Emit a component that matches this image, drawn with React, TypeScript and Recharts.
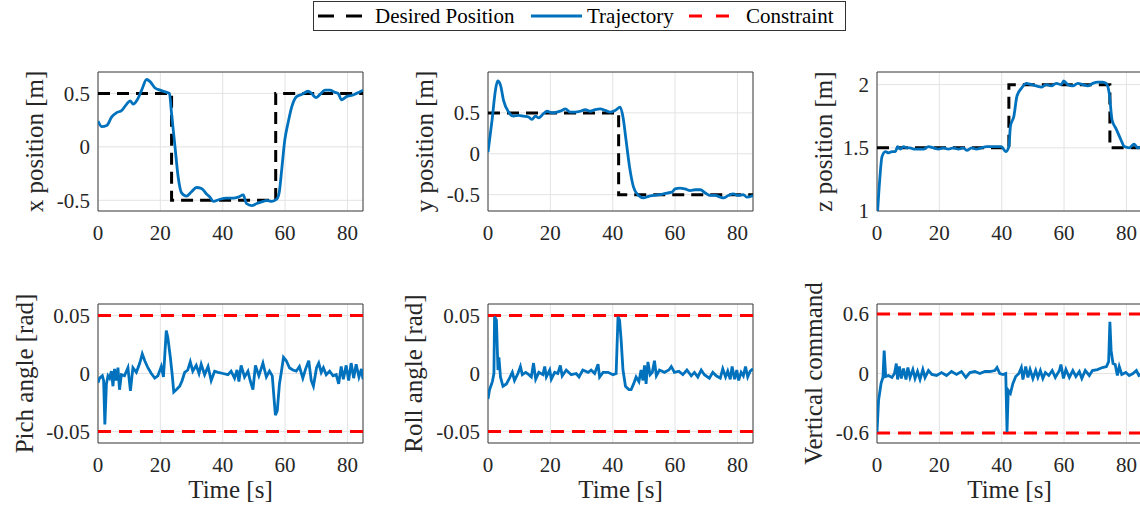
import React from 'react';
import {
  LineChart, Line, XAxis, YAxis, CartesianGrid, ReferenceLine, ReferenceArea,
} from 'recharts';

type Pt = [number, number];

const FONT = "'Liberation Serif', 'Times New Roman', serif";
const BLUE = '#0072BD';
const RED = '#FF0000';

const timeTicks = [0, 20, 40, 60, 80];
const timeDomain: [number, number] = [0, 85];

// ── x position ──
const xDesired: Pt[] = [[0, 0.5], [23.6, 0.5], [23.6, -0.5], [57, -0.5], [57, 0.5], [85, 0.5]];
const xTrajectory: Pt[] = [
  [0, 0.24], [1.2, 0.19], [2.8, 0.2], [4.4, 0.28], [6, 0.32], [7.6, 0.34], [9.2, 0.4], [10.3, 0.43],
  [11.3, 0.4], [12.6, 0.44], [14, 0.53], [15.6, 0.63], [16.7, 0.61], [18.3, 0.55], [19.9, 0.53],
  [22, 0.51], [22.9, 0.5], [23.6, 0.31], [24.7, 0], [25.7, -0.28], [26.8, -0.43], [28.4, -0.46],
  [30, -0.42], [31.6, -0.38], [33.2, -0.39], [34.8, -0.44], [35.9, -0.47], [37, -0.51], [39.1, -0.49],
  [41.2, -0.48], [43.4, -0.48], [45, -0.47], [46.6, -0.45], [47.6, -0.53], [49.3, -0.55], [50.9, -0.53],
  [53, -0.51], [54.1, -0.5], [55.7, -0.51], [57.3, -0.49], [58.1, -0.43], [58.9, -0.22], [59.9, 0.06],
  [61, 0.23], [62.1, 0.37], [63.7, 0.47], [65.3, 0.49], [67.4, 0.52], [68.5, 0.5], [69.9, 0.46],
  [71.2, 0.49], [72.8, 0.53], [74.4, 0.53], [76, 0.51], [77, 0.5], [78.1, 0.44], [79.7, 0.47],
  [81.3, 0.48], [82.9, 0.5], [85, 0.53],
];

// ── y position ──
const yDesired: Pt[] = [[0, 0.5], [41.9, 0.5], [41.9, -0.5], [85, -0.5]];
const yTrajectory: Pt[] = [
  [0, 0.02], [1.3, 0.41], [2.4, 0.78], [3.1, 0.89], [4, 0.84], [5, 0.65], [6.6, 0.51], [8.2, 0.46],
  [9.8, 0.47], [11.4, 0.46], [13, 0.45], [14.1, 0.42], [15.2, 0.46], [16.2, 0.44], [17.8, 0.49],
  [18.9, 0.52], [20.5, 0.5], [22.1, 0.51], [23.7, 0.53], [24.8, 0.55], [26.4, 0.51], [27.9, 0.51],
  [29.6, 0.52], [31.2, 0.54], [32.8, 0.52], [34.4, 0.54], [36, 0.55], [37.6, 0.53], [39.2, 0.51],
  [40.8, 0.53], [42.4, 0.57], [43.3, 0.45], [44.3, 0.16], [45.4, -0.16], [46.7, -0.41], [48.3, -0.51],
  [49.9, -0.54], [51.5, -0.52], [53.1, -0.51], [55.2, -0.5], [57.4, -0.48], [59, -0.47], [60, -0.43],
  [61.6, -0.42], [63.2, -0.43], [64.9, -0.45], [66.5, -0.44], [68.1, -0.44], [69.7, -0.48],
  [71.3, -0.51], [72.9, -0.51], [74.5, -0.53], [75.5, -0.54], [77.1, -0.51], [78.7, -0.49],
  [80.3, -0.51], [81.9, -0.5], [83, -0.53], [85, -0.51],
];

// ── z position ──
const zDesired: Pt[] = [[0, 1.5], [42.3, 1.5], [42.3, 2], [74.7, 2], [74.7, 1.5], [85, 1.5]];
const zTrajectory: Pt[] = [
  [0.2, 1.0], [0.85, 1.24], [1.6, 1.43], [2.7, 1.47], [3.7, 1.46], [4.8, 1.47], [5.9, 1.47], [6.6, 1.51],
  [7.5, 1.49], [8.5, 1.51], [9.6, 1.5], [10.6, 1.5], [11.9, 1.49], [13.3, 1.49], [14.9, 1.49],
  [16.5, 1.51], [18.1, 1.5], [19.7, 1.49], [21.3, 1.5], [22.9, 1.49], [24.5, 1.5], [26.1, 1.49],
  [27.7, 1.5], [28.8, 1.48], [30.4, 1.5], [31.9, 1.49], [33.5, 1.5], [35.1, 1.51], [36.7, 1.51],
  [38.3, 1.51], [39.9, 1.51], [41.3, 1.47], [42.3, 1.51], [42.8, 1.67], [43.9, 1.75], [44.9, 1.91],
  [46.3, 1.97], [47.9, 2.01], [49.5, 2.0], [51.1, 1.99], [52.7, 1.98], [54.3, 2.0], [55.9, 1.99],
  [57.5, 2.01], [59.1, 2.0], [59.9, 2.03], [61.2, 2.0], [62.8, 1.99], [64.4, 2.01], [66, 2.0],
  [67.6, 1.99], [69.2, 2.01], [70.8, 2.02], [72.4, 2.02], [73.5, 2.01], [74.5, 1.93], [75.4, 1.72],
  [76.7, 1.65], [78.3, 1.56], [79.3, 1.51], [80.9, 1.5], [82.5, 1.53], [83.6, 1.5], [85, 1.51],
];

// ── pitch angle ──
const pitchLimits = [-0.05, 0.05];
const pitchTrajectory: Pt[] = [
  [0, -0.008], [0.5, -0.004], [1.4, -0.002], [1.8, -0.006], [2.2, -0.044], [2.7, -0.009], [3.2, -0.002],
  [3.7, -0.004], [4.3, 0.002], [4.8, -0.011], [5.3, 0.004], [5.9, -0.006], [6.4, 0.005], [6.9, -0.014],
  [7.5, -0.001], [8.5, -0.002], [9.6, 0.005], [10.4, -0.015], [11.2, 0.005], [12.3, 0.001], [13.4, 0.009],
  [14.2, 0.017], [15, 0.011], [16, 0.005], [17.1, 0], [18.2, -0.004], [19.2, -0.002], [20.3, 0.006],
  [21, -0.003], [21.9, 0.037], [22.4, 0.031], [23.2, 0.014], [23.8, -0.001], [24.3, -0.016],
  [25.1, -0.014], [26.2, -0.011], [27, -0.006], [27.8, 0.001], [28.8, 0.003], [29.6, 0.01],
  [30.4, 0.002], [31.5, 0.007], [32.4, 0], [33.1, 0.008], [34.2, -0.001], [35.3, 0.006], [36.3, -0.006],
  [37.4, 0.002], [38.5, 0.001], [40.1, 0], [41.7, -0.001], [42.7, 0.002], [43.8, -0.004], [44.6, 0.003],
  [45.2, -0.007], [45.9, 0.007], [47, -0.003], [48.1, 0.002], [48.8, -0.006], [49.7, -0.014],
  [50.5, 0.007], [51.6, -0.002], [52.9, 0.009], [54, -0.003], [55, 0.002], [55.9, -0.002],
  [56.6, -0.026], [56.9, -0.036], [57.5, -0.032], [58.2, -0.009], [58.8, 0.001], [59.5, 0.014],
  [60.4, 0.011], [61.4, 0.005], [62.5, 0.003], [63.6, 0.002], [64.6, 0.006], [65.7, -0.004],
  [66.6, 0.004], [67.6, 0.011], [68.4, -0.006], [69.1, -0.011], [70.1, 0.005], [70.8, 0.009],
  [71.6, 0.001], [72.3, 0.005], [73.2, -0.001], [74.3, 0.002], [75.4, -0.002], [76.4, -0.001],
  [77.2, -0.009], [78, 0.006], [78.7, -0.005], [79.6, 0.007], [80.4, -0.006], [81.2, 0.009],
  [82, -0.004], [82.8, 0.008], [83.7, -0.003], [84.5, 0.004], [85, -0.005],
];

// ── roll angle ──
const rollLimits = [-0.05, 0.05];
const rollTrajectory: Pt[] = [
  [0, -0.022], [0.5, -0.014], [1.4, -0.007], [1.9, 0], [2.1, 0.049], [2.7, 0.046], [3.2, 0.003],
  [3.5, 0.014], [4, -0.003], [4.8, -0.011], [5.9, -0.009], [6.9, -0.004], [7.8, 0.001], [8.5, -0.006],
  [9.6, 0], [10.4, 0.006], [11, -0.001], [12.1, 0.001], [13.1, -0.001], [13.9, -0.003], [14.6, 0.009],
  [15.3, -0.005], [16.3, 0.001], [17.6, -0.001], [18.2, 0.006], [18.7, -0.003], [19.8, 0.003],
  [20.3, -0.005], [21.4, 0.001], [22.4, 0], [23.2, 0.007], [23.8, -0.002], [25.1, 0.003],
  [26.7, -0.001], [28.3, 0], [29.2, -0.003], [30.4, 0.003], [32.1, 0.001], [33.1, 0.003], [34.2, 0],
  [35.3, 0.008], [35.8, -0.003], [36.9, 0.001], [38.5, 0.001], [40.1, -0.001], [41.1, 0],
  [41.7, 0.049], [42.2, 0.046], [42.7, 0.029], [43.3, 0.003], [44.1, -0.011], [45.2, -0.014],
  [45.9, -0.014], [46.7, -0.009], [47.5, -0.003], [48.4, -0.007], [49.1, 0.003], [49.7, -0.006],
  [50.2, 0.007], [50.7, -0.009], [51.3, 0.01], [52, -0.001], [52.7, 0.001], [53.4, 0.011], [54, -0.002],
  [55, 0.003], [56.6, 0.001], [58, 0.003], [58.8, 0.006], [59.8, 0.001], [61.2, 0.002], [62.5, -0.001],
  [63.8, 0.003], [65.2, -0.002], [66.2, 0.001], [67.3, -0.003], [68.4, 0.003], [69.4, -0.001],
  [71, -0.004], [72.1, 0.001], [73.2, -0.002], [74.5, -0.004], [75.3, 0.004], [76.2, -0.003],
  [76.9, 0.002], [77.7, -0.005], [78.3, 0.006], [79.1, -0.005], [79.8, 0.003], [80.4, -0.006],
  [81.2, 0.001], [81.9, -0.002], [82.6, 0.006], [83.3, -0.003], [84.1, 0.002], [85, 0.004],
];

// ── vertical command ──
const verticalLimits = [-0.6, 0.6];
const verticalTrajectory: Pt[] = [
  [0, -0.59], [0.5, -0.27], [1.3, -0.1], [1.9, -0.04], [2.3, 0.23], [2.8, -0.03], [3.7, -0.02],
  [4.8, -0.04], [5.6, 0], [6.2, 0.1], [6.6, -0.06], [7.2, 0.07], [7.8, -0.05], [8.5, 0.05], [9.3, -0.06],
  [9.9, 0.06], [10.6, -0.04], [11.5, 0.04], [12.2, -0.05], [13, 0.02], [13.8, -0.06], [14.7, 0.04],
  [15.4, -0.04], [16.5, 0.03], [17.6, -0.01], [19.1, -0.02], [20.7, 0.01], [22.3, -0.02], [23.9, 0.02],
  [25.5, -0.01], [27.1, 0.02], [28.5, -0.04], [29.8, 0.01], [31.4, 0.02], [33, 0], [34.6, 0.02],
  [36.2, 0.02], [37.8, 0.03], [38.5, 0.06], [39.4, 0], [40.4, -0.01], [41.3, 0], [41.7, -0.59],
  [42.1, -0.17], [42.8, -0.2], [43.6, -0.1], [44.5, -0.03], [45.5, 0], [46.3, 0.06], [46.8, -0.06],
  [47.7, 0.07], [48.4, -0.04], [49.1, 0.04], [50, -0.05], [50.9, 0.03], [51.6, -0.04], [52.4, 0.03],
  [53.2, -0.05], [54, 0.01], [55.1, -0.02], [56.2, 0.03], [57.2, -0.04], [58.5, 0.03], [59, 0.09],
  [59.8, -0.05], [60.6, 0.04], [61.7, -0.04], [62.8, 0.03], [63.8, -0.03], [64.9, 0.02], [65.7, -0.05],
  [66.8, 0.03], [68.1, -0.02], [69.1, 0.03], [70.7, 0.04], [72.3, 0.06], [73.6, 0.07], [74.3, 0.12],
  [74.7, 0.52], [75.1, 0.23], [75.7, 0.1], [76.4, 0.09], [77.1, -0.02], [77.7, 0.07], [78.5, -0.01],
  [79.8, 0.01], [80.9, -0.02], [82.1, 0], [83.2, 0.03], [84, -0.02], [85, 0],
];

const toRows = (pts: Pt[]) => pts.map(([t, v]) => ({ t, v }));

const PLOT_W = 265;
const PLOT_H = 139;
const AXIS_W = 90;

const tickText = { fontSize: 21, fill: '#262626', fontFamily: FONT };

// serif tick labels, drawn at the positions the axis hands us
const XTick = ({ x, y, payload }: any) => (
  <text x={x} y={y} dy="0.71em" textAnchor="middle" style={tickText}>{payload.value}</text>
);
const YTick = ({ x, y, payload }: any) => (
  <text x={x} y={y} dy="0.35em" textAnchor="end" style={tickText}>{payload.value}</text>
);

interface PanelProps {
  left: number;
  top: number;
  yLabel: string;
  labelOffset: number;
  domain: [number, number];
  ticks: number[];
  trajectory: Pt[];
  desired?: Pt[];
  limits?: number[];
  showTime?: boolean;
}

function Panel({ left, top, yLabel, labelOffset, domain, ticks, trajectory, desired, limits, showTime }: PanelProps) {
  const xAxisH = showTime ? 60 : 35;
  return (
    <div style={{ position: 'absolute', left: left - AXIS_W, top: top - 10 }}>
      <LineChart
        width={AXIS_W + PLOT_W + 10}
        height={10 + PLOT_H + xAxisH}
        margin={{ top: 10, right: 10, bottom: 0, left: 0 }}
      >
        <CartesianGrid stroke="#e3e3e3" />
        <XAxis
          dataKey="t"
          type="number"
          domain={timeDomain}
          ticks={timeTicks}
          height={xAxisH}
          tickLine={false}
          axisLine={false}
          tickMargin={8}
          tick={<XTick />}
          allowDataOverflow
          label={showTime ? {
            value: 'Time [s]', position: 'insideBottom', offset: 5,
            style: { fontSize: 25, fill: '#262626', fontFamily: FONT },
          } : undefined}
        />
        <YAxis
          type="number"
          domain={domain}
          ticks={ticks}
          width={AXIS_W}
          tickLine={false}
          axisLine={false}
          tick={<YTick />}
          allowDataOverflow
          label={{
            value: yLabel, angle: -90, position: 'insideLeft', offset: labelOffset,
            style: { fontSize: 25, fill: '#262626', fontFamily: FONT, textAnchor: 'middle' },
          }}
        />
        <ReferenceArea
          x1={timeDomain[0]} x2={timeDomain[1]} y1={domain[0]} y2={domain[1]}
          fill="none" fillOpacity={0} stroke="#404040" strokeWidth={1}
        />
        {limits?.map((v) => (
          <ReferenceLine key={v} y={v} stroke={RED} strokeWidth={3} strokeDasharray="13 8" />
        ))}
        {desired && (
          <Line
            data={toRows(desired)} dataKey="v" type="linear" stroke="#000" strokeWidth={3}
            strokeDasharray="12 7" dot={false} isAnimationActive={false}
          />
        )}
        <Line
          data={toRows(trajectory)} dataKey="v" type={desired ? 'monotone' : 'linear'}
          stroke={BLUE} strokeWidth={2.8} dot={false} isAnimationActive={false}
        />
      </LineChart>
    </div>
  );
}

function LegendBox() {
  const txt = { fontSize: 21, fill: '#000', fontFamily: FONT };
  return (
    <svg width={1140} height={40} style={{ position: 'absolute', left: 0, top: 0 }}>
      <rect x={313.5} y={1.5} width={532} height={29} fill="#fff" stroke="#333" strokeWidth={1} />
      <line x1={318} x2={362} y1={16} y2={16} stroke="#000" strokeWidth={3} strokeDasharray="16 12" />
      <text x={375} y={23} {...txt}>Desired Position</text>
      <line x1={531} x2={582} y1={16} y2={16} stroke={BLUE} strokeWidth={3} />
      <text x={587} y={23} {...txt}>Trajectory</text>
      <line x1={689} x2={729} y1={16} y2={16} stroke={RED} strokeWidth={3} strokeDasharray="13 14" />
      <text x={746} y={23} {...txt}>Constraint</text>
    </svg>
  );
}

export default function App() {
  return (
    <div
      style={{
        position: 'absolute', left: 0, top: 0, width: 1140, height: 513,
        overflow: 'hidden', background: '#fff', fontFamily: FONT,
      }}
    >
      <style>{`
        .recharts-wrapper, .recharts-surface { overflow: visible !important; }
        .recharts-surface text { font-family: ${FONT} !important; }
      `}</style>
      <LegendBox />
      <Panel left={98} top={72} yLabel="x position [m]" labelOffset={26}
        domain={[-0.6, 0.7]} ticks={[-0.5, 0, 0.5]} trajectory={xTrajectory} desired={xDesired} />
      <Panel left={488} top={72} yLabel="y position [m]" labelOffset={26}
        domain={[-0.7, 1]} ticks={[-0.5, 0, 0.5]} trajectory={yTrajectory} desired={yDesired} />
      <Panel left={877} top={72} yLabel="z position [m]" labelOffset={36}
        domain={[1, 2.1]} ticks={[1, 1.5, 2]} trajectory={zTrajectory} desired={zDesired} />
      <Panel left={98} top={304} yLabel="Pich angle [rad]" labelOffset={16} showTime
        domain={[-0.06, 0.06]} ticks={[-0.05, 0, 0.05]} trajectory={pitchTrajectory} limits={pitchLimits} />
      <Panel left={488} top={304} yLabel="Roll angle [rad]" labelOffset={15} showTime
        domain={[-0.06, 0.06]} ticks={[-0.05, 0, 0.05]} trajectory={rollTrajectory} limits={rollLimits} />
      <Panel left={877} top={304} yLabel="Vertical command" labelOffset={26} showTime
        domain={[-0.7, 0.7]} ticks={[-0.6, 0, 0.6]} trajectory={verticalTrajectory} limits={verticalLimits} />
    </div>
  );
}
